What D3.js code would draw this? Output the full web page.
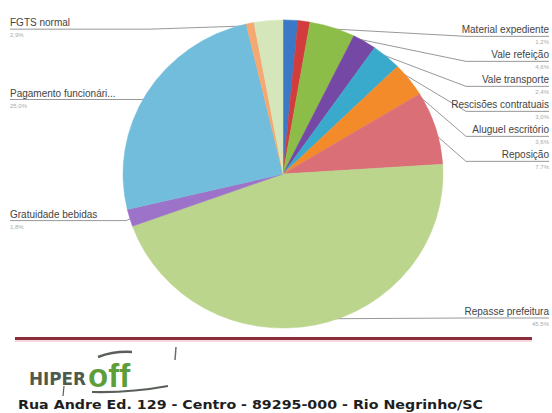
<!DOCTYPE html>
<html>
<head>
<meta charset="utf-8">
<script src="https://cdn.jsdelivr.net/npm/d3@7"></script>
<style>
  body { margin: 0; background: #fff; }
  svg { display: block; font-family: "Liberation Sans", Arial, sans-serif; }
</style>
</head>
<body>
<div id="chart"></div>
<script>
// slices, clockwise from 12 o'clock
const categories = [
    "Material didático", "Material expediente", "Vale refeição", "Vale transporte",
    "Rescisões contratuais", "Aluguel escritório", "Reposição",
    "Repasse prefeitura", "Gratuidade bebidas", "Pagamento funcionári...",
    "Outros", "FGTS normal"
];
const values = [1.5, 1.2, 4.6, 2.4, 3.0, 3.6, 7.7, 45.5, 1.8, 25.0, 0.8, 2.9];
const colors = [
    "#3b78c6", "#d23c3c", "#8dbd49", "#7548a6", "#39aacb", "#f38b2b",
    "#da6f78", "#bcd58d", "#9c73c9", "#72bddb", "#f5a872", "#d6e6bb"
];
// which slices get a leader label
const labelled = [false, true, true, true, true, true, true, true, true, true, false, true];

const footer = "Rua Andre Ed. 129 - Centro - 89295-000 - Rio Negrinho/SC";

const W = 552, H = 413;
const cx = 283, cy = 174, r = 160, squash = 0.963;

const svg = d3.select("#chart").append("svg")
    .attr("width", W)
    .attr("height", H);

const data = categories.map((c, i) => ({ name: c, value: values[i], color: colors[i], lab: labelled[i] }));

const pie = d3.pie().sort(null).value(d => d.value);
const arcs = pie(data);
const arc = d3.arc().innerRadius(0).outerRadius(r);

const fmt = v => d3.format(".1f")(v).replace(".", ",") + "%";

// point on the (slightly squashed) pie at a given angle and radius
const pt = (a, rr) => [cx + rr * Math.sin(a), cy - rr * squash * Math.cos(a)];

// ---- leader labels (drawn under the pie)
const right = arcs.filter(d => d.data.lab && (d.startAngle + d.endAngle) / 2 < Math.PI);
const left = arcs.filter(d => d.data.lab && (d.startAngle + d.endAngle) / 2 >= Math.PI)
    .sort((a, b) => pt((a.startAngle + a.endAngle) / 2, r)[1] - pt((b.startAngle + b.endAngle) / 2, r)[1]);

let prev = -100;
right.forEach(d => {
    const m = (d.startAngle + d.endAngle) / 2;
    d.anchor = pt(m, r * 0.96);
    d.ly = Math.min(Math.max(d.anchor[1] + 9, prev + 25), 318);
    prev = d.ly;
    d.side = 1;
});
prev = -100;
left.forEach(d => {
    const m = (d.startAngle + d.endAngle) / 2;
    d.anchor = pt(m, r * 0.97);
    d.ly = Math.max(d.anchor[1] + 4, prev + 25);
    prev = d.ly;
    d.side = -1;
});

const labels = right.concat(left);
const gl = svg.append("g").attr("id", "leaders");

gl.selectAll("path")
    .data(labels)
    .enter().append("path")
    .attr("fill", "none")
    .attr("stroke", "#8c8c8c")
    .attr("stroke-width", 0.9)
    .attr("d", d => {
        const ex = d.side > 0 ? Math.max(d.anchor[0] + 8, 466) : Math.min(d.anchor[0] - 8, 150);
        const endX = d.side > 0 ? 549 : 10;
        return "M" + d.anchor[0] + "," + d.anchor[1] + "L" + ex + "," + d.ly + "L" + endX + "," + d.ly;
    });

gl.selectAll("text.name")
    .data(labels)
    .enter().append("text")
    .attr("class", "name")
    .attr("x", d => d.side > 0 ? 549 : 10)
    .attr("y", d => d.ly - 3)
    .attr("text-anchor", d => d.side > 0 ? "end" : "start")
    .style("font-size", "10px")
    .style("fill", "#444")
    .text(d => d.data.name);

gl.selectAll("text.val")
    .data(labels)
    .enter().append("text")
    .attr("class", "val")
    .attr("x", d => d.side > 0 ? 549 : 10)
    .attr("y", d => d.ly + 8)
    .attr("text-anchor", d => d.side > 0 ? "end" : "start")
    .style("font-size", "6px")
    .style("fill", "#aaa")
    .text(d => fmt(d.data.value));

// ---- pie
svg.append("g")
    .attr("id", "pie")
    .attr("transform", "translate(" + cx + "," + cy + ") scale(1," + squash + ")")
    .selectAll("path")
    .data(arcs)
    .enter().append("path")
    .attr("d", arc)
    .style("fill", d => d.data.color)
    .style("stroke", d => d.data.color)
    .style("stroke-width", 0.5);

// ---- footer rule
svg.append("line")
    .attr("x1", 15).attr("x2", 532)
    .attr("y1", 338.5).attr("y2", 338.5)
    .style("stroke", "#8b2d3d")
    .style("stroke-width", 3);
svg.append("line")
    .attr("x1", 15).attr("x2", 532)
    .attr("y1", 341).attr("y2", 341)
    .style("stroke", "#efb3ba")
    .style("stroke-width", 1);

// ---- logo
const logo = svg.append("g").attr("id", "logo");
logo.append("text")
    .attr("x", 29).attr("y", 385)
    .attr("textLength", 57)
    .attr("lengthAdjust", "spacingAndGlyphs")
    .style("font-family", "'DejaVu Sans', sans-serif")
    .style("font-size", "18px")
    .style("font-weight", "bold")
    .style("fill", "#4d5b4e")
    .text("HIPER");
logo.append("text")
    .attr("x", 88).attr("y", 387)
    .style("font-size", "33px")
    .style("font-weight", "bold")
    .style("fill", "#5e9e3a")
    .text("off");
logo.append("path")
    .attr("d", "M98,357 Q114,351 132,352")
    .style("fill", "none").style("stroke", "#5a5f5a").style("stroke-width", 2.5);
logo.append("path")
    .attr("d", "M92,392 Q130,393 168,386")
    .style("fill", "none").style("stroke", "#5a5f5a").style("stroke-width", 2.2);
logo.append("path")
    .attr("d", "M64,386 L63,396")
    .style("fill", "none").style("stroke", "#5a5f5a").style("stroke-width", 1.2);
logo.append("path")
    .attr("d", "M176,347 L175,360")
    .style("fill", "none").style("stroke", "#6a6f6a").style("stroke-width", 1.5);

svg.append("text")
    .attr("x", 18).attr("y", 409)
    .attr("textLength", 465)
    .attr("lengthAdjust", "spacingAndGlyphs")
    .style("font-family", "'DejaVu Sans', sans-serif")
    .style("font-size", "12.5px")
    .style("font-weight", "bold")
    .style("fill", "#1e1e1e")
    .text(footer);
</script>
</body>
</html>
